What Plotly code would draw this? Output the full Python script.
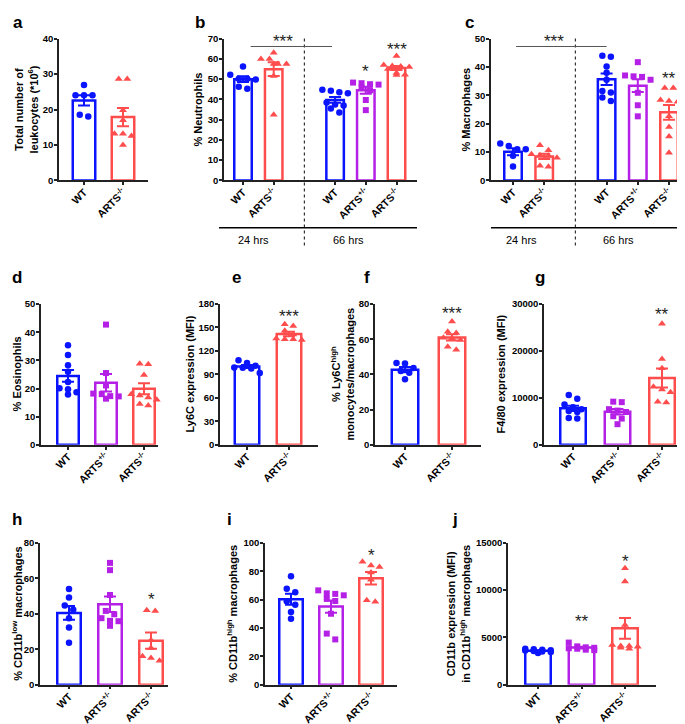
import numpy as np
import plotly.graph_objects as go

W, H = 685, 724
BLUE = '#0A14FF'
PURPLE = '#B420E6'
RED = '#FF4C4C'
FONT = 'Liberation Sans, Arial, sans-serif'

# values, one list per group
a_wt = [26.9, 24.0, 24.0, 24.0, 18.0, 18.5]
a_ko = [28.6, 28.6, 19.8, 17.0, 13.2, 13.2, 12.5, 10.0]

b_wt24 = [56.2, 52.2, 50.2, 50.2, 49.8, 46.2, 45.2]
b_ko24 = [63.0, 60.0, 60.0, 57.5, 57.5, 57.5, 51.5, 32.4]
b_wt66 = [44.8, 44.3, 43.5, 43.0, 38.5, 37.5, 37.0, 35.5, 33.5]
b_het66 = [48.3, 48.0, 47.5, 47.3, 45.8, 44.5, 39.7, 34.7]
b_ko66 = [61.4, 57.0, 56.5, 56.2, 56.0, 55.0, 53.0, 52.2, 52.0]

c_wt24 = [13.0, 12.1, 11.0, 11.0, 8.7, 4.9]
c_ko24 = [12.4, 10.6, 9.2, 8.9, 8.7, 8.0, 5.2, 4.8]
c_wt66 = [44.0, 43.6, 40.2, 38.0, 35.5, 31.5, 31.0, 29.2, 28.0]
c_het66 = [41.7, 37.0, 36.7, 36.5, 35.5, 30.9, 26.5, 22.6]
c_ko66 = [32.6, 32.6, 28.4, 28.0, 27.7, 22.6, 18.8, 15.5, 9.8]

d_wt = [35.4, 31.9, 28.3, 26.0, 22.3, 20.1, 19.7, 18.7, 17.9]
d_het = [42.7, 25.5, 21.1, 18.2, 18.0, 17.3, 17.2, 16.4]
d_ko = [28.8, 28.6, 24.8, 18.0, 17.5, 16.8, 16.0, 14.5, 14.0]

e_wt = [108.0, 104.6, 101.0, 99.0, 98.5, 97.5, 92.0]
e_ko = [154, 152, 146, 141, 136, 135, 134, 135]

f_wt = [46.5, 46.2, 43.7, 41.9, 40.9, 37.2]
f_ko = [70.1, 64.2, 63.5, 60.8, 60.5, 59.5, 55.8, 54.0]

g_wt = [10600, 9800, 8600, 8000, 7600, 7200, 7000, 5700, 5600]
g_het = [9200, 9100, 7600, 7300, 7000, 6100, 5600, 4400]
g_ko = [25800, 18300, 16300, 12400, 11800, 11200, 9200, 9000]

h_wt = [53.9, 49.1, 44.6, 42.2, 37.5, 32.3, 23.7]
h_het = [68.7, 64.6, 50.6, 41.6, 39.7, 37.5, 36.0, 35.8, 33.2]
h_ko = [42.0, 41.6, 25.0, 20.7, 16.0, 15.0, 13.5]

i_wt = [76.5, 67.7, 65.1, 58.8, 56.3, 51.2, 46.5]
i_het = [66.5, 64.4, 64.0, 63.0, 60.5, 59.0, 50.0, 36.0, 31.9]
i_ko = [86.7, 84.0, 83.0, 79.0, 74.0, 59.5, 58.5]

j_wt = [3800, 3750, 3700, 3650, 3600, 3550, 3500, 3450, 3350]
j_het = [4450, 4050, 3950, 3900, 3850, 3800, 3700, 3650]
j_ko = [12300, 10900, 6300, 4200, 4100, 4100, 4000, 3900, 3800]

# genotype -> colour, marker, tick label
STYLE = {
    'wt': (BLUE, 'circle', 6.5, 'WT'),
    'het': (PURPLE, 'square', 6, 'ARTS<sup>+/-</sup>'),
    'ko': (RED, 'triangle-up', 7, 'ARTS<sup>-/-</sup>'),
}


def fx(px):
    return px / W


def fy(py):
    return 1 - py / H


def swarm(vals, ypx, gap=8.5, tol=6, maxrow=4):
    # spread overlapping points sideways, prism style
    order = np.argsort(-vals)
    rows = []
    for i in order:
        if rows and len(rows[-1]) < maxrow and (vals[rows[-1][0]] - vals[i]) * ypx < tol:
            rows[-1].append(i)
        else:
            rows.append([i])
    offs = np.zeros(len(vals))
    for r in rows:
        for j, i in enumerate(r):
            offs[i] = (j - (len(r) - 1) / 2) * gap
    return offs


panels = [
    dict(box=(51, 140, 25, 169), c1=76, step=39, bw=25, ymax=40, dtick=10,
         groups=[(1, a_wt, 'wt'), (2, a_ko, 'ko')],
         title='Total number of<br>leukocytes (*10<sup>6</sup>)', tx=18, letter=('a', 3, 9)),
    dict(box=(216, 409, 25, 169), c1=235, step=30.7, bw=20, ymax=70, dtick=10,
         groups=[(1, b_wt24, 'wt'), (2, b_ko24, 'ko'), (4, b_wt66, 'wt'), (5, b_het66, 'het'), (6, b_ko66, 'ko')],
         title='% Neutrophils', tx=190, letter=('b', 185, 9),
         stars=[(5, 56.2, '*'), (6, 67.1, '***')]),
    dict(box=(483, 683, 25, 169), c1=505, step=31.2, bw=20, ymax=50, dtick=10,
         groups=[(1, c_wt24, 'wt'), (2, c_ko24, 'ko'), (4, c_wt66, 'wt'), (5, c_het66, 'het'), (6, c_ko66, 'ko')],
         title='% Macrophages', tx=458, letter=('c', 455, 9),
         stars=[(6, 37.8, '**')]),
    dict(box=(33, 150, 294.5, 437.5), c1=60, step=38, bw=24, ymax=50, dtick=10,
         groups=[(1, d_wt, 'wt'), (2, d_het, 'het'), (3, d_ko, 'ko')],
         title='% Eosinophils', tx=9, letter=('d', 2, 268)),
    dict(box=(212, 310, 294.5, 437.5), c1=239, step=42, bw=27, ymax=180, dtick=30,
         groups=[(1, e_wt, 'wt'), (2, e_ko, 'ko')],
         title='Ly6C expression (MFI)', tx=182, letter=('e', 222, 268),
         stars=[(2, 171, '***')]),
    dict(box=(367, 473, 294.5, 437.5), c1=397, step=47, bw=29, ymax=80, dtick=20,
         groups=[(1, f_wt, 'wt'), (2, f_ko, 'ko')],
         title='% Ly6C<sup>high</sup><br>monocytes/macrophages', tx=335, letter=('f', 354, 268),
         stars=[(2, 77.6, '***')]),
    dict(box=(536, 683, 294.5, 437.5), c1=565, step=44.5, bw=28, ymax=30000, dtick=10000,
         groups=[(1, g_wt, 'wt'), (2, g_het, 'het'), (3, g_ko, 'ko')],
         title='F4/80 expression (MFI)', tx=493, letter=('g', 525, 268),
         stars=[(3, 28800, '**')]),
    dict(box=(32, 160, 537, 681), c1=61, step=41, bw=26, ymax=80, dtick=20,
         groups=[(1, h_wt, 'wt'), (2, h_het, 'het'), (3, h_ko, 'ko')],
         title='% CD11b<sup>low</sup> macrophages', tx=9, letter=('h', 2, 513),
         stars=[(3, 50.6, '*')]),
    dict(box=(257, 389, 537, 681), c1=283, step=40, bw=26, ymax=100, dtick=20,
         groups=[(1, i_wt, 'wt'), (2, i_het, 'het'), (3, i_ko, 'ko')],
         title='% CD11b<sup>high</sup> macrophages', tx=224, letter=('i', 217, 513),
         stars=[(3, 94.9, '*')]),
    dict(box=(500, 648, 537, 681), c1=530, step=43.5, bw=28, ymax=15000, dtick=5000,
         groups=[(1, j_wt, 'wt'), (2, j_het, 'het'), (3, j_ko, 'ko')],
         title='CD11b expression (MFI)<br>in CD11b<sup>high</sup> macrophages', tx=450, letter=('j', 442, 513),
         stars=[(2, 7185, '**'), (3, 13600, '*')]),
]

fig = go.Figure()
layout = {}
annotations = []
shapes = []
STAR_FONT = dict(family=FONT, size=17, color='#222')

for k, p in enumerate(panels, 1):
    sfx = '' if k == 1 else str(k)
    xa, ya = 'x' + sfx, 'y' + sfx
    x0, x1, y0, y1 = p['box']
    s = p['step']
    ypx = (y1 - y0) / p['ymax']
    lw = 2.5
    for pos, vals, kind in p['groups']:
        col, sym, msize, _ = STYLE[kind]
        vals = np.array(vals, dtype=float)
        m = vals.mean()
        se = vals.std(ddof=1) / np.sqrt(len(vals))
        fig.add_trace(go.Bar(x=[pos], y=[m], width=(p['bw'] - lw) / s, xaxis=xa, yaxis=ya,
                             marker=dict(color='white', line=dict(color=col, width=lw)),
                             hoverinfo='skip'))
        offs = swarm(vals, ypx) / s
        fig.add_trace(go.Scatter(x=pos + offs, y=vals, mode='markers', xaxis=xa, yaxis=ya,
                                 marker=dict(color=col, symbol=sym, size=msize, line=dict(width=0)),
                                 cliponaxis=False))
        fig.add_trace(go.Scatter(x=[pos], y=[m], mode='markers', xaxis=xa, yaxis=ya,
                                 marker=dict(size=1, opacity=0),
                                 error_y=dict(type='data', array=[se], color=col, thickness=2, width=6),
                                 hoverinfo='skip'))

    tickpos = [g[0] for g in p['groups']]
    ticktxt = [STYLE[g[2]][3] for g in p['groups']]
    axis_common = dict(showline=True, linecolor='#222', linewidth=1.5,
                       ticks='outside', ticklen=3, tickwidth=1.5, tickcolor='#222',
                       showgrid=False, zeroline=False, fixedrange=True)
    layout['xaxis' + sfx] = dict(domain=[fx(x0), fx(x1)], anchor=ya,
                                 range=[1 - (p['c1'] - x0) / s, 1 + (x1 - p['c1']) / s],
                                 tickvals=tickpos, ticktext=ticktxt, tickangle=-45,
                                 ticklabelstandoff=-3,
                                 tickfont=dict(family=FONT, size=10.5, color='black', weight='bold'),
                                 **axis_common)
    layout['yaxis' + sfx] = dict(domain=[fy(y1), fy(y0)], anchor=xa,
                                 range=[0, p['ymax']], tick0=0, dtick=p['dtick'], tickformat='d',
                                 ticklabelstandoff=-1,
                                 tickfont=dict(family=FONT, size=9.5, color='black', weight='bold'),
                                 **axis_common)

    annotations.append(dict(x=fx(p['tx']), y=fy((y0 + y1) / 2), xref='paper', yref='paper',
                            text=p['title'], textangle=-90, showarrow=False,
                            xanchor='center', yanchor='middle',
                            font=dict(family=FONT, size=11, color='black', weight='bold')))
    lt, lx, ly = p['letter']
    annotations.append(dict(x=fx(lx), y=fy(ly), xref='paper', yref='paper', text=lt,
                            showarrow=False, xanchor='left', yanchor='middle',
                            font=dict(family=FONT, size=17, color='black', weight='bold')))
    for sx, sy, st in p.get('stars', []):
        annotations.append(dict(x=sx, y=sy, xref=xa, yref=ya, text=st, showarrow=False,
                                xanchor='center', yanchor='middle', yshift=-5, font=STAR_FONT))

# time-point blocks under b and c
for xa, x_left, x_right, lab24, lab66, bar_from, bar_to, star_x in [
        ('x2', 211, 409, 245, 340, 1.25, 3.9, 275),
        ('x3', 483, 683, 513, 610, 1.1, 4.0, 546)]:
    shapes.append(dict(type='line', xref=xa, yref='paper', x0=3, x1=3, y0=fy(25), y1=fy(237),
                       line=dict(color='#333', width=1.2, dash='3px,3px')))
    shapes.append(dict(type='line', xref='paper', yref='paper', x0=fx(x_left), x1=fx(x_right),
                       y0=fy(217), y1=fy(217), line=dict(color='black', width=1.5)))
    shapes.append(dict(type='line', xref=xa, yref='paper', x0=bar_from, x1=bar_to,
                       y0=fy(33), y1=fy(33), line=dict(color='#555', width=1)))
    for lx, lab in [(lab24, '24 hrs'), (lab66, '66 hrs')]:
        annotations.append(dict(x=fx(lx), y=fy(229), xref='paper', yref='paper', text=lab,
                                showarrow=False, xanchor='center', yanchor='middle',
                                font=dict(family=FONT, size=11, color='black')))
    annotations.append(dict(x=fx(star_x), y=fy(28), xref='paper', yref='paper', text='***',
                            showarrow=False, xanchor='center', yanchor='middle', font=STAR_FONT))

fig.update_layout(**layout)
fig.update_layout(width=W, height=H, autosize=False, showlegend=False,
                  margin=dict(l=0, r=0, t=0, b=0),
                  paper_bgcolor='white', plot_bgcolor='white',
                  barmode='overlay', annotations=annotations, shapes=shapes)

fig.write_html("out.html")
